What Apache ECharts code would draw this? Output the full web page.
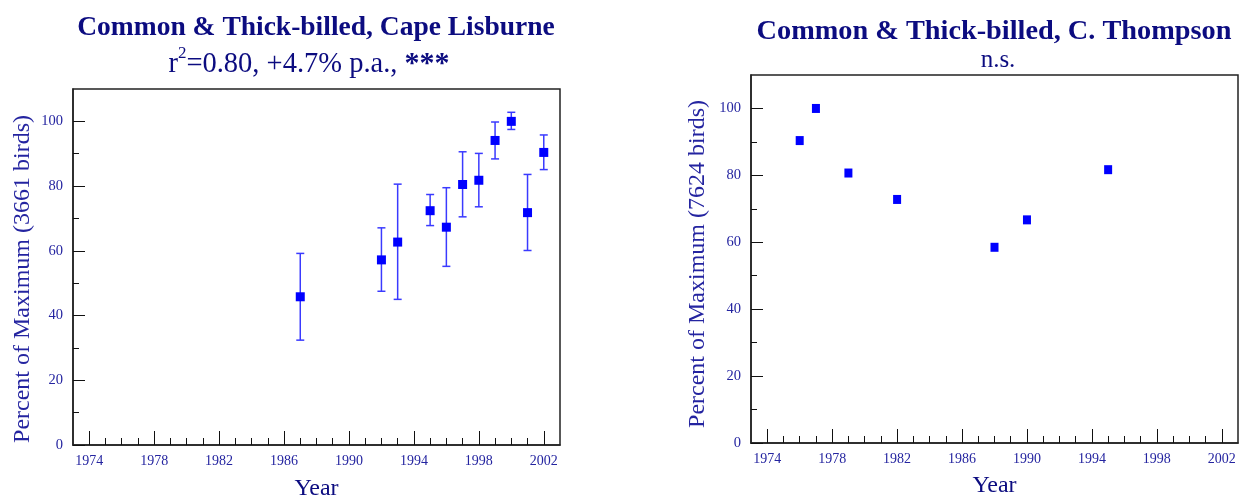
<!DOCTYPE html>
<html>
<head>
<meta charset="utf-8">
<script src="https://cdn.jsdelivr.net/npm/echarts@6/dist/echarts.min.js"></script>
<style>
html,body{margin:0;padding:0;background:#fff;}
#c{width:1244px;height:499px;}
</style>
</head>
<body>
<div id="c"></div>
<script>
// ---- data ----
const leftYears  = [1987, 1992, 1993, 1995, 1996, 1997, 1998, 1999, 2000, 2001, 2002];
const leftValues = [45.8, 57.2, 62.7, 72.4, 67.3, 80.5, 81.8, 94.1, 100, 71.8, 90.4];
const leftLow    = [32.4, 47.5, 45.0, 67.8, 55.2, 70.5, 73.6, 88.4, 97.5, 60.1, 85.1];
const leftHigh   = [59.2, 67.1, 80.6, 77.4, 79.5, 90.6, 90.1, 99.8, 102.8, 83.6, 95.8];
const rightYears  = [1976, 1977, 1979, 1982, 1988, 1990, 1995];
const rightValues = [90.4, 100, 80.7, 72.8, 58.5, 66.7, 81.7];
const xMajorTicks = [1974, 1978, 1982, 1986, 1990, 1994, 1998, 2002];
const xMinorTicks = [1974,1975,1976,1977,1978,1979,1980,1981,1982,1983,1984,1985,1986,1987,1988,1989,1990,1991,1992,1993,1994,1995,1996,1997,1998,1999,2000,2001,2002];
const yMajorTicks = [0, 20, 40, 60, 80, 100];
const yMinorTicks = [10, 30, 50, 70, 90];

const FONT = "'Liberation Serif', 'Times New Roman', serif";
const NAVY = '#0c0c80';
const LBL = '#2424a0';

function xAxes(gridIndex, gap) {
  return [
    {
      type: 'value', gridIndex: gridIndex, min: 1973, max: 2003, position: 'bottom',
      name: 'Year', nameLocation: 'middle', nameGap: gap,
      nameTextStyle: {fontFamily: FONT, fontSize: 24, color: NAVY},
      axisLine: {show: true, lineStyle: {color: '#222', width: 1.5}},
      axisTick: {show: true, inside: true, length: 14, customValues: xMajorTicks, lineStyle: {color: '#111', width: 1}},
      axisLabel: {show: true, customValues: xMajorTicks, fontFamily: FONT, fontSize: 14, color: LBL, margin: 9,
                  formatter: function (v) { return String(v); }},
      splitLine: {show: false}
    },
    {
      type: 'value', gridIndex: gridIndex, min: 1973, max: 2003, position: 'bottom',
      axisLine: {show: false},
      axisTick: {show: true, inside: true, length: 7, customValues: xMinorTicks, lineStyle: {color: '#111', width: 1}},
      axisLabel: {show: false},
      splitLine: {show: false}
    }
  ];
}
function yAxes(gridIndex, name, pad, gap) {
  return [
    {
      type: 'value', gridIndex: gridIndex, min: 0, max: 110, position: 'left',
      name: name, nameLocation: 'middle', nameGap: gap,
      nameTextStyle: {fontFamily: FONT, fontSize: 24, color: LBL, padding: [0, pad, 0, 0]},
      axisLine: {show: true, lineStyle: {color: '#222', width: 1.5}},
      axisTick: {show: true, inside: true, length: 12, customValues: yMajorTicks, lineStyle: {color: '#111', width: 1}},
      axisLabel: {show: true, customValues: yMajorTicks, fontFamily: FONT, fontSize: 14.5, color: LBL, margin: 10},
      splitLine: {show: false}
    },
    {
      type: 'value', gridIndex: gridIndex, min: 0, max: 110, position: 'left',
      axisLine: {show: false},
      axisTick: {show: true, inside: true, length: 6, customValues: yMinorTicks, lineStyle: {color: '#111', width: 1}},
      axisLabel: {show: false},
      splitLine: {show: false}
    }
  ];
}

const errData = leftYears.map((y, i) => [y, leftLow[i], leftHigh[i]]);

const option = {
  backgroundColor: '#fff',
  animation: false,
  title: [
    {
      text: 'Common & Thick-billed, Cape Lisburne', left: 311, top: 8, textAlign: 'center',
      textStyle: {fontFamily: FONT, fontSize: 27.5, fontWeight: 'bold', color: NAVY, lineHeight: 30}
    },
    {
      text: '{n|r}{sup|2}{n|=0.80, +4.7% p.a., }{b|***}', left: 304, top: 40, textAlign: 'center',
      textStyle: {
        fontFamily: FONT, fontSize: 28.5, fontWeight: 'normal', color: NAVY,
        rich: {
          n: {fontFamily: FONT, fontSize: 28.5, fontWeight: 'normal', color: NAVY, verticalAlign: 'bottom', lineHeight: 34},
          sup: {fontFamily: FONT, fontSize: 17, fontWeight: 'normal', color: NAVY, verticalAlign: 'top', lineHeight: 34, padding: [0, 0, 15, 0]},
          b: {fontFamily: FONT, fontSize: 30, fontWeight: 'bold', color: NAVY, verticalAlign: 'bottom', lineHeight: 34}
        }
      }
    },
    {
      text: 'Common & Thick-billed, C. Thompson', left: 989, top: 12, textAlign: 'center',
      textStyle: {fontFamily: FONT, fontSize: 28.3, fontWeight: 'bold', color: NAVY, lineHeight: 30}
    },
    {
      text: 'n.s.', left: 993, top: 42, textAlign: 'center',
      textStyle: {fontFamily: FONT, fontSize: 25, fontWeight: 'normal', color: NAVY, lineHeight: 26}
    }
  ],
  grid: [
    {left: 73, top: 89, width: 487, height: 356, show: true, borderColor: '#222', borderWidth: 1.5, backgroundColor: 'transparent', outerBoundsMode: 'none', containLabel: false},
    {left: 751, top: 75, width: 487, height: 368, show: true, borderColor: '#222', borderWidth: 1.5, backgroundColor: 'transparent', outerBoundsMode: 'none', containLabel: false}
  ],
  xAxis: [...xAxes(0, 32), ...xAxes(1, 31)],
  yAxis: [...yAxes(0, 'Percent of Maximum (3661 birds)', 24, 38), ...yAxes(1, 'Percent of Maximum (7624 birds)', 10, 41)],
  series: [
    {
      type: 'custom', xAxisIndex: 0, yAxisIndex: 0,
      data: errData,
      renderItem: function (params, api) {
        const x = api.value(0);
        const lo = api.coord([x, api.value(1)]);
        const hi = api.coord([x, api.value(2)]);
        const cw = 4;
        const style = {stroke: '#3a3aff', lineWidth: 1.5};
        return {
          type: 'group',
          children: [
            {type: 'line', shape: {x1: lo[0], y1: lo[1], x2: hi[0], y2: hi[1]}, style: style},
            {type: 'line', shape: {x1: lo[0] - cw, y1: lo[1], x2: lo[0] + cw, y2: lo[1]}, style: style},
            {type: 'line', shape: {x1: hi[0] - cw, y1: hi[1], x2: hi[0] + cw, y2: hi[1]}, style: style}
          ]
        };
      },
      z: 2
    },
    {
      type: 'scatter', xAxisIndex: 0, yAxisIndex: 0,
      symbol: 'rect', symbolSize: [9, 9],
      itemStyle: {color: '#0000ff', opacity: 1},
      data: leftYears.map((y, i) => [y, leftValues[i]]),
      z: 3
    },
    {
      type: 'scatter', xAxisIndex: 2, yAxisIndex: 2,
      symbol: 'rect', symbolSize: [8, 9],
      itemStyle: {color: '#0000ff', opacity: 1},
      data: rightYears.map((y, i) => [y, rightValues[i]]),
      z: 3
    }
  ]
};

const chart = echarts.init(document.getElementById('c'), null, {renderer: 'canvas'});
chart.setOption(option);
</script>
</body>
</html>
